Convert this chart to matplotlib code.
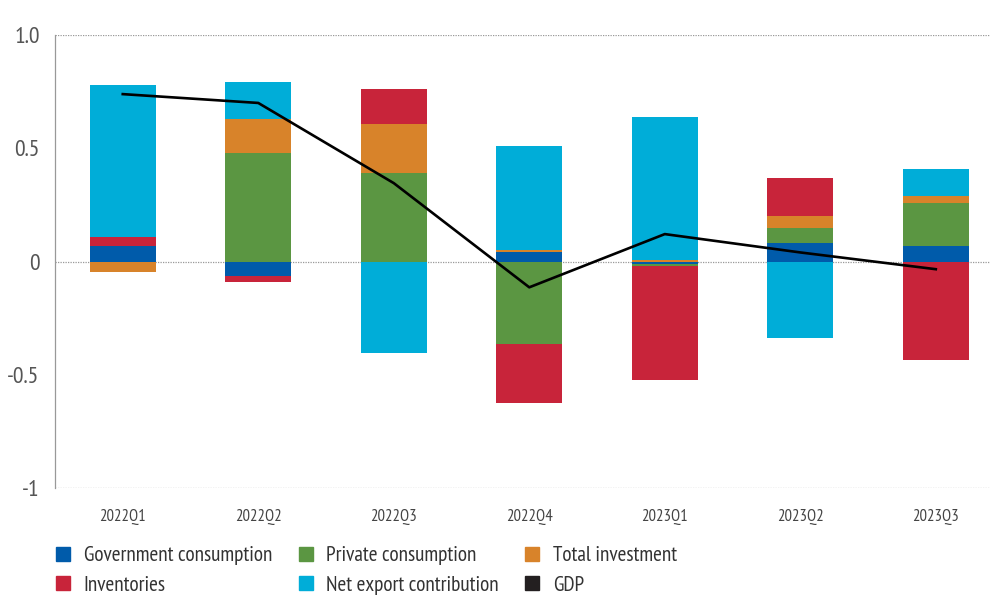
import matplotlib
matplotlib.use("Agg")
import matplotlib.pyplot as plt
import numpy as np
from matplotlib.lines import Line2D

plt.rcParams['font.family'] = ['PT Sans Narrow', 'DejaVu Sans']

quarters = ["2022Q1", "2022Q2", "2022Q3", "2022Q4", "2023Q1", "2023Q2", "2023Q3"]
gov = [0.067, -0.065, 0.0, 0.041, -0.012, 0.081, 0.068]
private = [0.0, 0.479, 0.39, -0.365, -0.009, 0.066, 0.19]
investment = [-0.047, 0.15, 0.216, 0.009, 0.008, 0.053, 0.031]
inventories = [0.04, -0.027, 0.155, -0.26, -0.50, 0.168, -0.436]
net_export = [0.672, 0.163, -0.405, 0.459, 0.63, -0.336, 0.119]
gdp = [0.739, 0.70, 0.346, -0.114, 0.121, 0.04, -0.034]

series = [
    ("Government consumption", gov, "#005BAA"),
    ("Private consumption", private, "#5B9642"),
    ("Total investment", investment, "#D8832A"),
    ("Inventories", inventories, "#C8243A"),
    ("Net export contribution", net_export, "#00ADD8"),
]

fig = plt.figure(figsize=(9.9, 5.96), dpi=100)
ax = fig.add_axes([55/990, 108/596, 935/990, 453/596])
x = np.arange(len(quarters))
pos = np.zeros(len(quarters))
neg = np.zeros(len(quarters))
for name, vals, col in series:
    v = np.array(vals)
    bottom = np.where(v >= 0, pos, neg)
    ax.bar(x, v, 0.49, bottom=bottom, color=col, zorder=2, linewidth=0)
    pos = pos + np.where(v >= 0, v, 0)
    neg = neg + np.where(v < 0, v, 0)
ax.plot(x, gdp, color="black", lw=1.9, zorder=3)

ax.set_xlim(-0.5, 6.4)
ax.set_ylim(-1, 1)
for yv in [1.0, 0.0, -1.0]:
    ax.axhline(yv, color="#999999", lw=0.9, ls=(0, (1, 1)), zorder=1)
for s in ["top", "right", "bottom"]:
    ax.spines[s].set_visible(False)
ax.spines["left"].set_color("#999999")
ax.spines["left"].set_linestyle((0, (1, 1)))
ax.spines["left"].set_linewidth(0.9)
ax.set_yticks([1.0, 0.5, 0, -0.5, -1])
ax.set_yticklabels(["1.0", "0.5", "0", "-0.5", "-1"], fontsize=17, color="#555555")
ax.set_xticks(x)
ax.set_xticklabels(quarters, fontsize=12, color="#444444")
ax.tick_params(axis="both", length=0)
ax.tick_params(axis="y", pad=11)
ax.tick_params(axis="x", pad=15)

handles = {}
for name, vals, col in series:
    handles[name] = Line2D([], [], marker="s", ls="none", markersize=10, color=col)
handles["GDP"] = Line2D([], [], marker="s", ls="none", markersize=10, color="#231F20")
order = ["Government consumption", "Inventories", "Private consumption",
         "Net export contribution", "Total investment", "GDP"]
fig.legend([handles[k] for k in order], order, loc="upper left",
           bbox_to_anchor=(54/990, 1 - 546/596), ncol=3, frameon=False,
           fontsize=15.3, handlelength=0.85, handletextpad=0.55,
           columnspacing=1.15, labelspacing=0.5, borderaxespad=0, borderpad=0,
           labelcolor="#333333")

fig.savefig("out.png", dpi=100)
